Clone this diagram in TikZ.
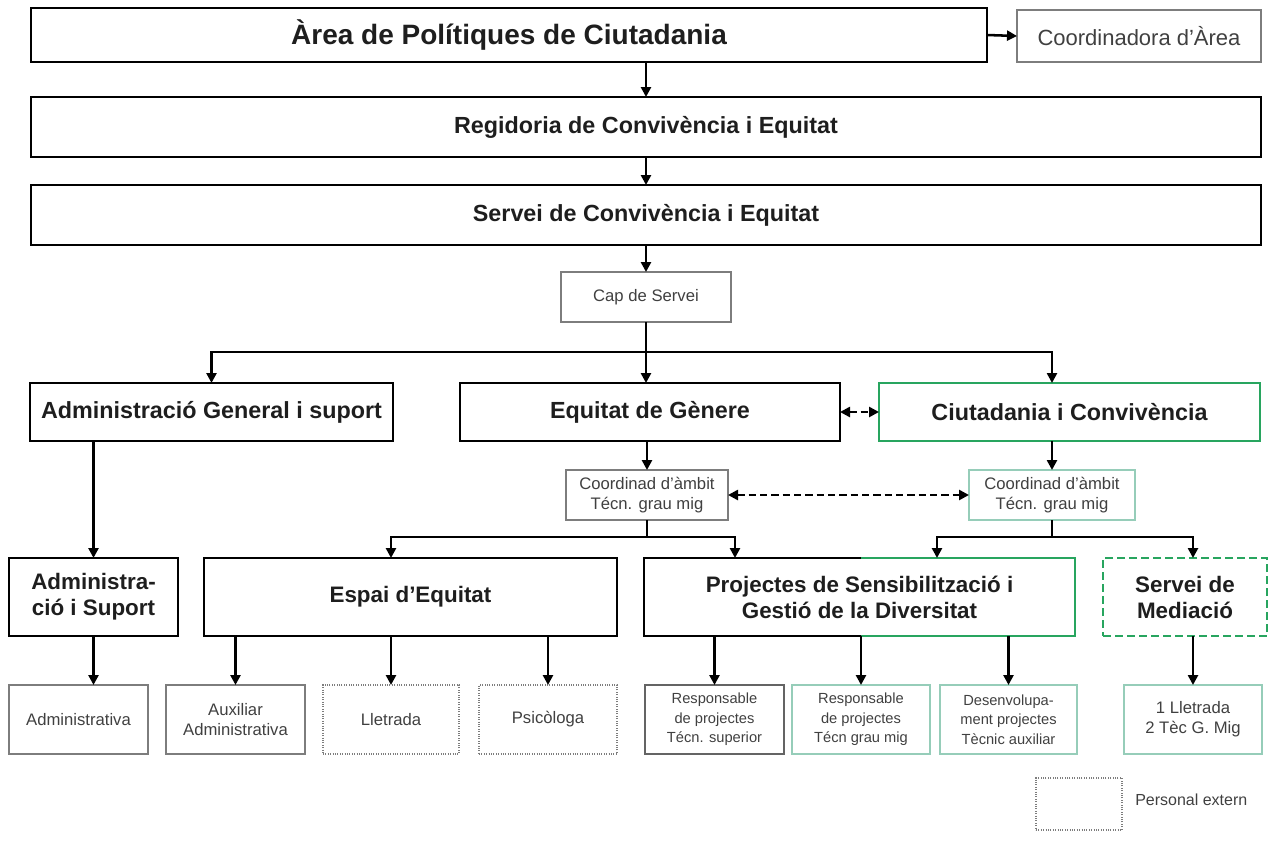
\documentclass[tikz,border=0pt]{standalone}
\usepackage{fontspec}
\setmainfont{Liberation Sans}
\usetikzlibrary{arrows.meta,calc}
\definecolor{grn}{RGB}{40,165,95}
\definecolor{lteal}{RGB}{150,205,185}
\definecolor{gbox}{RGB}{125,125,125}
\definecolor{txt}{RGB}{30,30,30}
\newcommand{\bx}[7]{\node[#6, minimum width={(#4-#2)*0.75pt}, minimum height={(#5-#3)*0.75pt}] (#1) at ({(#2+#4)/2},{(#3+#5)/2}) {#7};}
\tikzset{
 big/.style={draw=black, line width=2.2pt, inner sep=0pt, outer sep=0pt, text=txt, align=center, font=\bfseries\fontsize{16.8}{19.5}\selectfont},
 gbig/.style={big, draw=grn},
 thin/.style={draw=gbox, line width=0.8pt, inner sep=0pt, outer sep=0pt, align=center, text=txt!85, font=\fontsize{12.5}{15}\selectfont},
 three/.style={font=\fontsize{11}{14.5}\selectfont},
 tthin/.style={thin, draw=lteal},
 dthin/.style={thin, densely dotted},
 arr/.style={line width=1.9pt, -{Triangle[length=7.5pt,width=7.5pt]}},
 ln/.style={line width=1.9pt},
 darr/.style={line width=1.9pt, dash pattern=on 5.5pt off 3pt, {Triangle[length=7.5pt,width=7.5pt]}-{Triangle[length=7.5pt,width=7.5pt]}},
}
\begin{document}
\begin{tikzpicture}[x=0.75pt, y=-0.75pt]
\useasboundingbox (0,0) rectangle (1271,850);
% top levels
\bx{area}{31}{8}{987}{62}{big, font=\bfseries\fontsize{21}{25}\selectfont}{Àrea de Polítiques de Ciutadania}
\bx{coord}{1017}{10}{1261}{62}{thin, font=\fontsize{16.5}{19}\selectfont}{Coordinadora d'Àrea}
\bx{reg}{31}{97}{1261}{157}{big, font=\bfseries\fontsize{17.5}{20}\selectfont}{Regidoria de Convivència i Equitat}
\bx{serv}{31}{185}{1261}{245}{big, font=\bfseries\fontsize{17.5}{20}\selectfont}{Servei de Convivència i Equitat}
\bx{cap}{561}{272}{731}{322}{thin}{Cap de Servei}
% level 2
\bx{admgen}{30}{383}{393}{441}{big, font=\bfseries\fontsize{17.5}{20}\selectfont}{Administració General i suport}
\bx{eq}{460}{383}{840}{441}{big, font=\bfseries\fontsize{17.5}{20}\selectfont}{Equitat de Gènere}
\bx{ciut}{879}{383}{1260}{441}{gbig, font=\bfseries\fontsize{17.5}{20}\selectfont}{Ciutadania i Convivència}
\bx{coordL}{566}{470}{728}{520}{thin}{Coordinad d'àmbit\\Técn. grau mig}
\bx{coordR}{969}{470}{1135}{520}{tthin}{Coordinad d'àmbit\\Técn. grau mig}
% level 3
\bx{adm2}{9}{558}{178}{636}{big}{Administra-\\ció i Suport}
\bx{espai}{204}{558}{617}{636}{big}{Espai d'Equitat}
\bx{proj}{644}{558}{1075}{636}{big, draw=none}{Projectes de Sensibilització i\\Gestió de la Diversitat}
\bx{med}{1103}{558}{1267}{636}{gbig, dash pattern=on 6pt off 3pt}{Servei de\\Mediació}
% bottom
\bx{admtiva}{9}{685}{148}{754}{thin}{Administrativa}
\bx{aux}{166}{685}{305}{754}{thin}{Auxiliar\\Administrativa}
\bx{llet}{323}{685}{459}{754}{dthin}{Lletrada}
\bx{psi}{479}{685}{617}{754}{dthin}{Psicòloga}
\bx{resp1}{645}{685}{784}{754}{thin, three, draw=gbox!80!black}{Responsable\\de projectes\\Técn. superior}
\bx{resp2}{792}{685}{930}{754}{tthin, three}{Responsable\\de projectes\\Técn grau mig}
\bx{desen}{940}{685}{1077}{754}{tthin, three}{Desenvolupa-\\ment projectes\\Tècnic auxiliar}
\bx{llet2}{1124}{685}{1262}{754}{tthin}{1 Lletrada\\2 Tèc G. Mig}
% legend
\bx{leg}{1036}{778}{1122}{830}{dthin}{}
\node[anchor=west, text=txt!85, font=\fontsize{12}{14}\selectfont, inner sep=0pt] (legt) at (1135,800) {Personal extern};
% split border of Projectes
\coordinate (split) at (861,0);
\draw[line width=2.2pt, black] (proj.north -| split) -- (proj.north west) -- (proj.south west) -- (proj.south -| split);
\draw[line width=2.2pt, grn] (proj.north -| split) -- (proj.north east) -- (proj.south east) -- (proj.south -| split);
% connectors
\draw[arr] (area.south -| reg.north) -- (reg.north);
\draw[arr] (area.east) -- (coord.west);
\draw[arr] (reg.south) -- (serv.north);
\draw[arr] (serv.south) -- (cap.north);
\coordinate (j1) at (646,352);
\draw[ln] (cap.south) -- (j1);
\draw[arr] (j1) -- (eq.north -| j1);
\draw[arr] (j1) -| (admgen.north);
\draw[arr] (j1) -| (ciut.north -| coordR.north);
\draw[darr] (eq.east) -- (ciut.west);
\draw[arr] (eq.south -| coordL.north) -- (coordL.north);
\draw[arr] (ciut.south -| coordR.north) -- (coordR.north);
\draw[darr] (coordL.east) -- (coordR.west);
\coordinate (j2) at (647,537);
\coordinate (j3) at (1052,537);
\coordinate (pA) at (735,0);
\coordinate (pB) at (937,0);
\draw[ln] (coordL.south) -- (j2);
\draw[arr] (j2) -| (espai.north -| llet.north);
\draw[arr] (j2) -| (proj.north -| pA);
\draw[ln] (coordR.south) -- (j3);
\draw[arr] (j3) -| (proj.north -| pB);
\draw[arr] (j3) -| (med.north -| llet2.north);
\draw[arr] (admgen.south -| adm2.north) -- (adm2.north);
\draw[arr] (adm2.south) -- (adm2.south |- admtiva.north);
\draw[arr] (espai.south -| aux.north) -- (aux.north);
\draw[arr] (espai.south -| llet.north) -- (llet.north);
\draw[arr] (espai.south -| psi.north) -- (psi.north);
\draw[arr] (proj.south -| resp1.north) -- (resp1.north);
\draw[arr] (proj.south -| resp2.north) -- (resp2.north);
\draw[arr] (proj.south -| desen.north) -- (desen.north);
\draw[arr] (med.south -| llet2.north) -- (llet2.north);
\end{tikzpicture}
\end{document}
